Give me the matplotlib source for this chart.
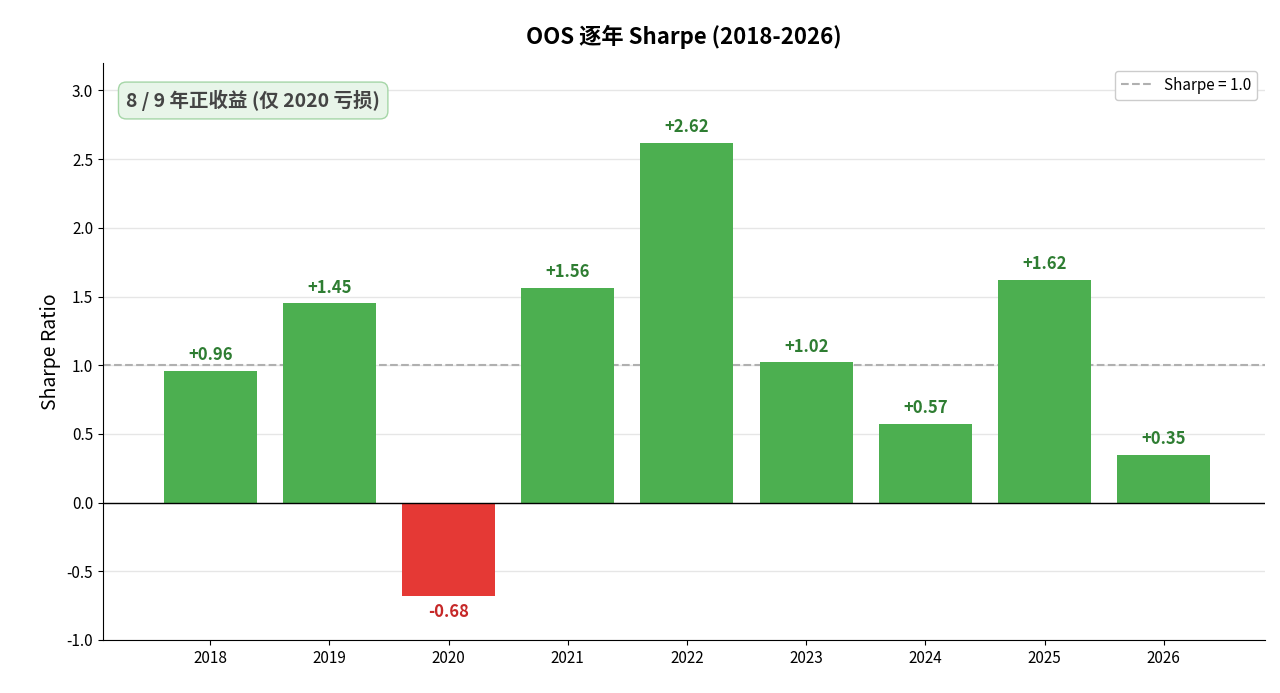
import matplotlib
matplotlib.use("Agg")
import matplotlib.pyplot as plt

plt.rcParams['font.family'] = ['Noto Sans CJK SC', 'DejaVu Sans']
plt.rcParams['axes.unicode_minus'] = False

years = ['2018', '2019', '2020', '2021', '2022', '2023', '2024', '2025', '2026']
sharpe = [0.96, 1.45, -0.68, 1.56, 2.62, 1.02, 0.57, 1.62, 0.35]

fig = plt.figure(figsize=(12.8, 6.93), dpi=100)
ax = fig.add_axes([103/1280, 1-640/693, (1265-103)/1280, (640-63)/693])
colors = ['#4caf50' if v >= 0 else '#e53935' for v in sharpe]
x = range(len(years))
ax.bar(x, sharpe, width=0.78, color=colors, zorder=3)
for i, v in zip(x, sharpe):
    if v >= 0:
        ax.text(i, v + 0.05, f'+{v:.2f}', ha='center', va='bottom', fontsize=12,
                fontweight='bold', color='#2e7d32')
    else:
        ax.text(i, v - 0.05, f'{v:.2f}', ha='center', va='top', fontsize=12,
                fontweight='bold', color='#c62828')
ax.axhline(1.0, color='#b0b0b0', linestyle='--', linewidth=1.5, label='Sharpe = 1.0', zorder=2)
ax.axhline(0, color='black', linewidth=1, zorder=4)
ax.set_ylim(-1.0, 3.2)
ax.set_xlim(-0.9, 8.85)
ax.set_yticks([-1.0, -0.5, 0.0, 0.5, 1.0, 1.5, 2.0, 2.5, 3.0])
ax.set_yticklabels([f'{t:.1f}' for t in ax.get_yticks()])
ax.set_xticks(list(x))
ax.set_xticklabels(years)
ax.tick_params(labelsize=11)
ax.grid(axis='y', color='#e6e6e6', linewidth=1, zorder=0)
ax.set_axisbelow(True)
for s in ['top', 'right']:
    ax.spines[s].set_visible(False)
ax.set_ylabel('Sharpe Ratio', fontsize=14)
ax.set_title('OOS 逐年 Sharpe (2018-2026)', fontsize=16, fontweight='bold', pad=14)
ax.legend(loc='upper right', fontsize=11, framealpha=1, edgecolor='#cccccc')
ax.text(0.02, 0.935, '8 / 9 年正收益 (仅 2020 亏损)', transform=ax.transAxes, fontsize=14,
        fontweight='bold', color='#444444', va='center',
        bbox=dict(boxstyle='round,pad=0.4', facecolor='#e8f5e9', edgecolor='#a5d6a7'))
fig.savefig('out.png', dpi=100)
